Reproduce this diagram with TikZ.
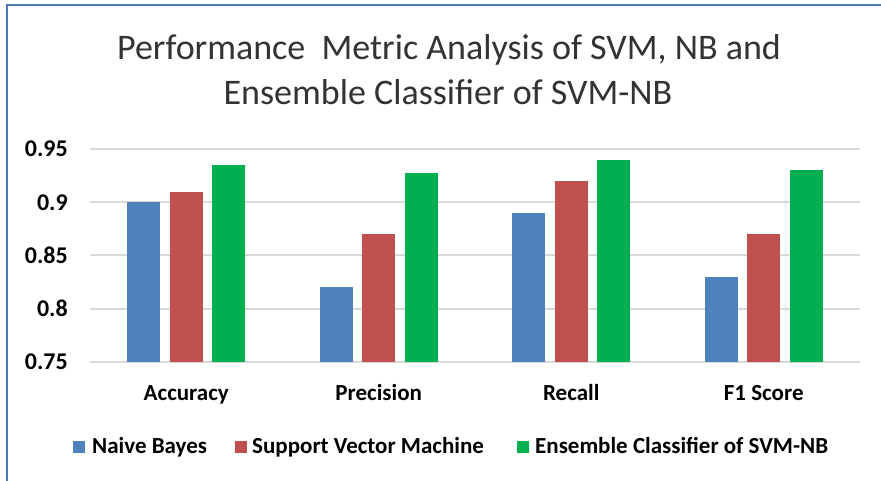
\documentclass[tikz,border=0pt]{standalone}
\usepackage{fontspec}
\setmainfont{Carlito}
\usepackage{xcolor}
\usetikzlibrary{positioning,calc}

\definecolor{nbblue}{HTML}{4F81BD}
\definecolor{svmred}{HTML}{C0504D}
\definecolor{ensgreen}{HTML}{00B050}
\definecolor{gridgray}{HTML}{D9D9D9}
\definecolor{titlegray}{HTML}{333333}

\begin{document}
\begin{tikzpicture}[x=1pt,y=-1pt,
			frame line/.style={draw=nbblue!95!black, line width=2.5pt},
			grid line/.style={draw=gridgray, line width=2pt},
			title text/.style={font=\fontsize{36}{47}\selectfont, text=titlegray, inner sep=0pt},
			tick label/.style={font=\fontsize{24}{24}\selectfont\bfseries, anchor=east, inner sep=0pt},
			cat label/.style={font=\fontsize{23}{23}\selectfont\bfseries, anchor=base, inner sep=0pt},
			key label/.style={font=\fontsize{23}{23}\selectfont\bfseries, anchor=base west, inner sep=0pt},
			key box/.style={minimum size=12pt, inner sep=0pt, anchor=south west}]

			\useasboundingbox (0,0) rectangle (881,481);
			\fill[white] (0,0) rectangle (881,481);

			% frame (cut off at right and bottom)
			\draw[frame line] (7,481) -- (7,5) -- (881,5);

			% title
			\node[title text, anchor=base] (t1) at (449,60) {Performance\ \ Metric Analysis of SVM, NB and};
			\node[title text, anchor=base] (t2) at (448,105) {Ensemble Classifier of SVM-NB};

			% grid and axis
			\draw[grid line] (90,149) -- (860,149);
			\draw[grid line] (90,202.25) -- (860,202.25);
			\draw[grid line] (90,255.5) -- (860,255.5);
			\draw[grid line] (90,308.75) -- (860,308.75);
			\draw[grid line] (90,362) -- (860,362);

			\node[tick label] (y95) at (68,149) {0.95};
			\node[tick label] (y90) at (68,202.25) {0.9};
			\node[tick label] (y85) at (68,255.5) {0.85};
			\node[tick label] (y80) at (68,308.75) {0.8};
			\node[tick label] (y75) at (68,362) {0.75};

			% bars, y in metric units
			\begin{scope}[shift={(0,1160.75)}, y=1065pt]
				\fill[nbblue]   (127.25,0.75) rectangle (160.25,0.90);
				\fill[svmred]   (169.75,0.75) rectangle (202.75,0.91);
				\fill[ensgreen] (212.25,0.75) rectangle (245.25,0.935);

				\fill[nbblue]   (319.75,0.75) rectangle (352.75,0.82);
				\fill[svmred]   (362.25,0.75) rectangle (395.25,0.87);
				\fill[ensgreen] (404.75,0.75) rectangle (437.75,0.927);

				\fill[nbblue]   (512.25,0.75) rectangle (545.25,0.89);
				\fill[svmred]   (554.75,0.75) rectangle (587.75,0.92);
				\fill[ensgreen] (597.25,0.75) rectangle (630.25,0.94);

				\fill[nbblue]   (704.75,0.75) rectangle (737.75,0.83);
				\fill[svmred]   (747.25,0.75) rectangle (780.25,0.87);
				\fill[ensgreen] (789.75,0.75) rectangle (822.75,0.93);
			\end{scope}

			% categories
			\node[cat label] (acc) at (186.25,400) {Accuracy};
			\node[cat label] (pre) at (378.75,400) {Precision};
			\node[cat label] (rec) at (571.25,400) {Recall};
			\node[cat label] (f1)  at (763.75,400) {F1 Score};

			% legend
			\node[key box, fill=nbblue] (k1) at (73,453) {};
			\node[key label] (l1) at (92,453) {Naive Bayes};
			\node[key box, fill=svmred] (k2) at (235,453) {};
			\node[key label] (l2) at (252,453) {Support Vector Machine};
			\node[key box, fill=ensgreen] (k3) at (517,453) {};
			\node[key label] (l3) at (535,453) {Ensemble Classifier of SVM-NB};
		\end{tikzpicture}
\end{document}
